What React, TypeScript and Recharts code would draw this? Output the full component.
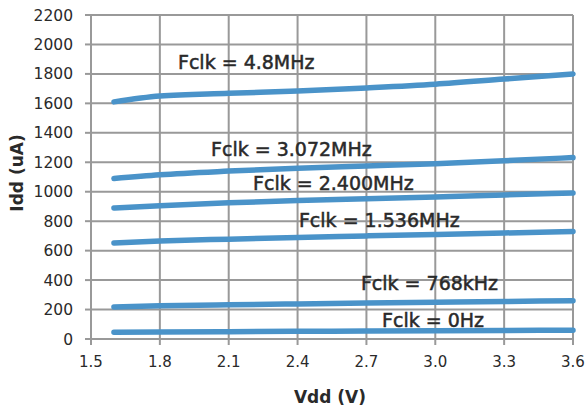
import { CartesianGrid, Line, LineChart, ReferenceDot, XAxis, YAxis } from "recharts";

const vdd = [1.6, 1.8, 2.1, 2.4, 2.7, 3.0, 3.3, 3.6];
const f4800 = [1610, 1650, 1668, 1684, 1705, 1730, 1765, 1800];
const f3072 = [1090, 1115, 1140, 1160, 1175, 1190, 1210, 1232];
const f2400 = [890, 905, 925, 940, 952, 965, 978, 992];
const f1536 = [652, 665, 678, 690, 700, 710, 720, 730];
const f768 = [218, 225, 232, 238, 244, 250, 255, 260];
const f0 = [46, 48, 50, 52, 54, 56, 58, 60];

const xTicks = [1.5, 1.8, 2.1, 2.4, 2.7, 3.0, 3.3, 3.6];
const yTicks = [0, 200, 400, 600, 800, 1000, 1200, 1400, 1600, 1800, 2000, 2200];

const seriesKeys = ["f4800", "f3072", "f2400", "f1536", "f768", "f0"];
const labelTexts = ["Fclk = 4.8MHz", "Fclk = 3.072MHz", "Fclk = 2.400MHz", "Fclk = 1.536MHz", "Fclk = 768kHz", "Fclk = 0Hz"];
const labelX = [1.879, 2.023, 2.206, 2.406, 2.676, 2.768];
const labelY = [1880, 1290, 1059, 808, 380, 129];

const data = vdd.map((v, i) => ({
  vdd: v,
  f4800: f4800[i],
  f3072: f3072[i],
  f2400: f2400[i],
  f1536: f1536[i],
  f768: f768[i],
  f0: f0[i],
}));

const font = "'DejaVu Sans', sans-serif";
const gridColor = "#999999";
const lineColor = "#4a93c9";
const textColor = "#2a2a2a";

export default function App() {
  return (
    <div style={{ position: "absolute", left: 0, top: 0, background: "#fff", fontFamily: font }}>
      <LineChart width={587} height={413} data={data} margin={{ top: 15, right: 14, left: 0, bottom: 0 }}>
        <CartesianGrid stroke={gridColor} strokeWidth={2} horizontalValues={yTicks} verticalValues={xTicks} />
        <XAxis
          dataKey="vdd"
          type="number"
          domain={[1.5, 3.6]}
          ticks={xTicks}
          tickFormatter={(v: number) => v.toFixed(1)}
          height={74}
          stroke={gridColor}
          strokeWidth={2}
          tickSize={6}
          tickMargin={11}
          tick={{ fill: textColor, fontSize: 15, fontFamily: font }}
        />
        <YAxis
          type="number"
          domain={[0, 2200]}
          ticks={yTicks}
          width={91}
          stroke={gridColor}
          strokeWidth={2}
          tickSize={6}
          tickMargin={12}
          tick={{ fill: textColor, fontSize: 15.5, fontFamily: font }}
        />
        {seriesKeys.map((k) => (
          <Line
            key={k}
            dataKey={k}
            type="monotone"
            stroke={lineColor}
            strokeWidth={5.5}
            strokeLinecap="round"
            dot={false}
            activeDot={false}
            isAnimationActive={false}
          />
        ))}
        {labelTexts.map((t, i) => (
          <ReferenceDot
            key={t}
            x={labelX[i]}
            y={labelY[i]}
            r={0}
            shape={(p: any) => (
              <text
                x={p.cx}
                y={p.cy}
                dy="0.36em"
                textAnchor="start"
                fill={textColor}
                stroke={textColor}
                strokeWidth={0.5}
                fontSize={19}
                fontFamily={font}
              >
                {t}
              </text>
            )}
          />
        ))}
        <text x={330} y={403} textAnchor="middle" fill={textColor} fontSize={17} fontWeight="bold" fontFamily={font}>
          Vdd (V)
        </text>
        <text
          x={23}
          y={173}
          textAnchor="middle"
          transform="rotate(-90 23 173)"
          fill={textColor}
          fontSize={17}
          fontWeight="bold"
          fontFamily={font}
        >
          Idd (uA)
        </text>
      </LineChart>
    </div>
  );
}
